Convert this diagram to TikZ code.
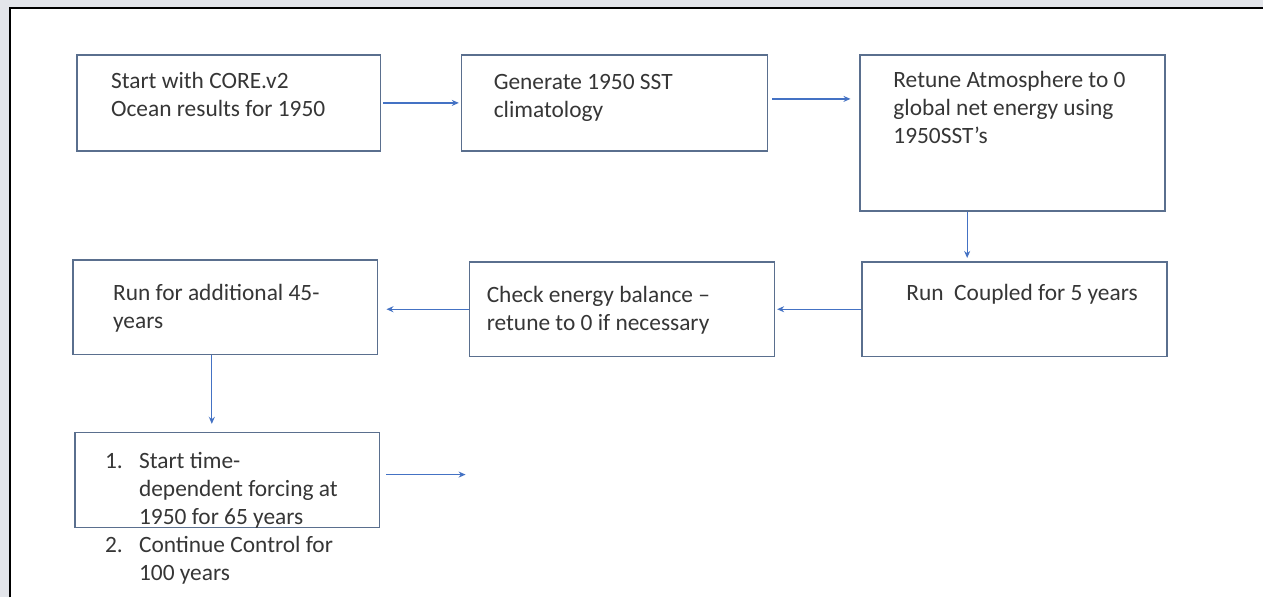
\documentclass[tikz,border=0pt]{standalone}
\usepackage{fontspec}
\setmainfont{Carlito}
\usetikzlibrary{arrows.meta}
\definecolor{boxline}{HTML}{5A6F8E}
\definecolor{arrowblue}{HTML}{4472C4}
\definecolor{pagegrey}{HTML}{E3E5EA}
\definecolor{inkgrey}{HTML}{363636}
\begin{document}
\begin{tikzpicture}[x=1pt, y=-1pt,
    box/.style = {draw=boxline, line width=1.6pt, minimum width=305pt, minimum height=96pt, inner sep=0pt},
    txt/.style = {anchor=base west, inner sep=0pt, text=inkgrey, align=left,
                  font=\fontsize{23.4}{28}\selectfont},
    flow/.style = {draw=arrowblue, line width=1.3pt, -{Stealth[length=7pt, width=6pt]}}]
                % page frame
                \fill[pagegrey] (0,0) rectangle (1264,598);
                \fill[white] (11,9) rectangle (1264,598);
                \draw[line width=2.2pt] (10,598) -- (10,8) -- (1264,8);
                \useasboundingbox (0,0) rectangle (1264,598);

                % boxes
                \node[box, minimum width=304pt] (start) at (229,103) {};
                \node[box, minimum width=306pt] (gen) at (615,103) {};
                \node[box, minimum height=156pt] (retune) at (1013.5,133) {};
                \node[box, minimum height=95pt] (coupled) at (1015.5,309.5) {};
                \node[box, minimum height=95pt] (check) at (622.5,309.5) {};
                \node[box, minimum height=95pt] (extra) at (225.5,307.5) {};
                \node[box, minimum height=95pt] (forcing) at (227.5,480.5) {};

                % texts (placed at the baseline of their last line)
                \node[txt] (starttext) at (111,117) {Start with CORE.v2\\Ocean results for 1950};
                \node[txt] (gentext) at (494,118) {Generate 1950 SST\\climatology};
                \node[txt] (retunetext) at (894,144) {Retune Atmosphere to 0\\global net energy using\\1950SST’s};
                \node[txt] (coupledtext) at (907,301) {Run\ \ Coupled for 5 years};
                \node[txt] (checktext) at (487,331) {Check energy balance –\\retune to 0 if necessary};
                \node[txt] (extratext) at (113,329) {Run for additional 45-\\years};
                \node[txt] (num1) at (105,469) {1.};
                \node[txt] (num2) at (105,553) {2.};
                \node[txt] (forcingtext) at (139,581) {Start time-\\dependent forcing at\\1950 for 65 years\\Continue Control for\\100 years};

                % arrows
                \coordinate (open) at (466,475);
                \draw[flow, shorten <=2pt, shorten >=2pt] (start.east) -- (gen.west);
                \draw[flow, shorten <=4pt, shorten >=9pt] ([yshift=4pt]gen.east) -- ([yshift=4pt]gen.east -| retune.west);
                \draw[flow, shorten >=3pt] ([xshift=-45.5pt]retune.south) -- ([xshift=-45.5pt]retune.south |- coupled.north);
                \draw[flow, shorten >=2pt] (coupled.west) -- (check.east);
                \draw[flow, shorten >=8pt] (check.west) -- (check.west -| extra.east);
                \draw[flow, shorten >=8pt] ([xshift=-13.5pt]extra.south) -- ([xshift=-13.5pt]extra.south |- forcing.north);
                \draw[flow] ([xshift=6pt]forcing.east |- open) -- (open);

            \end{tikzpicture}
\end{document}
